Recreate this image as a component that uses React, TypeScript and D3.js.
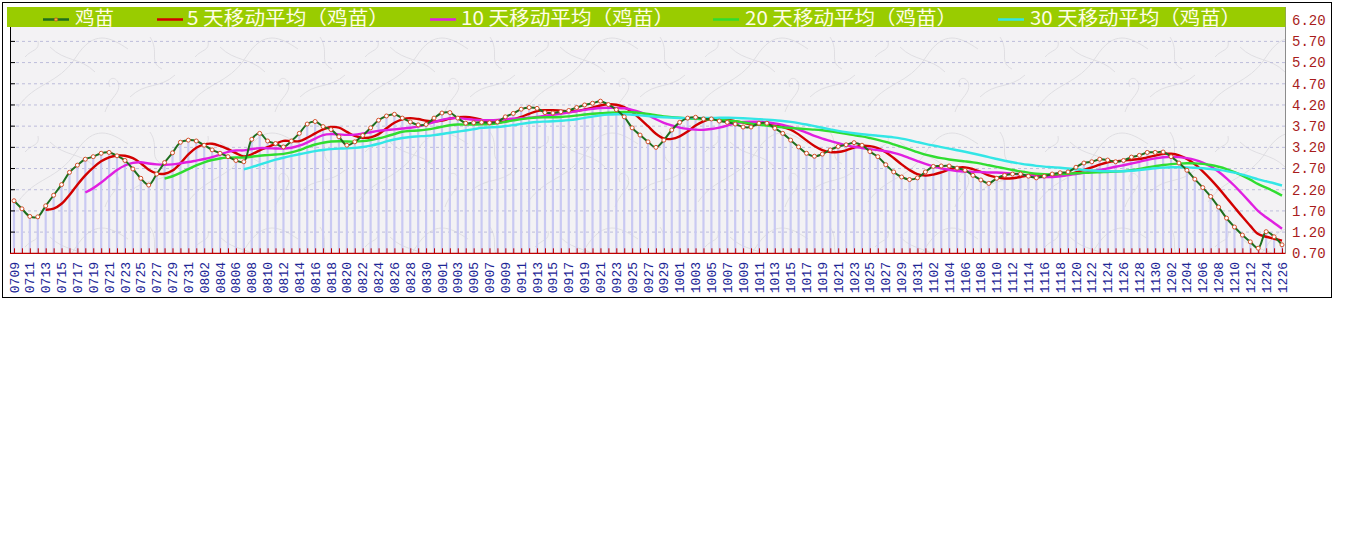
import React from 'react';
import * as d3 from 'd3';

// Dates (categories) — every day, one gap in December
const dates: string[] = (
  "0709 0710 0711 0712 0713 0714 0715 0716 0717 0718 0719 0720 0721 0722 0723 0724 0725 0726 0727 0728 0729 0730 0731 " +
  "0801 0802 0803 0804 0805 0806 0807 0808 0809 0810 0811 0812 0813 0814 0815 0816 0817 0818 0819 0820 0821 0822 0823 0824 0825 0826 0827 0828 0829 0830 0831 " +
  "0901 0902 0903 0904 0905 0906 0907 0908 0909 0910 0911 0912 0913 0914 0915 0916 0917 0918 0919 0920 0921 0922 0923 0924 0925 0926 0927 0928 0929 0930 " +
  "1001 1002 1003 1004 1005 1006 1007 1008 1009 1010 1011 1012 1013 1014 1015 1016 1017 1018 1019 1020 1021 1022 1023 1024 1025 1026 1027 1028 1029 1030 1031 " +
  "1101 1102 1103 1104 1105 1106 1107 1108 1109 1110 1111 1112 1113 1114 1115 1116 1117 1118 1119 1120 1121 1122 1123 1124 1125 1126 1127 1128 1129 1130 " +
  "1201 1202 1203 1204 1205 1206 1207 1208 1209 1210 1211 1212 1213 1224 1225 1226"
).split(" ");

// 鸡苗 price
const price: number[] = [
  1.94, 1.75, 1.57, 1.56, 1.82, 2.07, 2.32, 2.61, 2.78, 2.92,
  2.98, 3.06, 3.08, 3.00, 2.89, 2.69, 2.47, 2.31, 2.57, 2.84,
  3.07, 3.32, 3.37, 3.35, 3.25, 3.14, 3.06, 2.98, 2.89, 2.86,
  3.39, 3.53, 3.35, 3.29, 3.21, 3.35, 3.53, 3.75, 3.81, 3.69,
  3.62, 3.45, 3.25, 3.33, 3.48, 3.66, 3.84, 3.94, 3.98, 3.89,
  3.80, 3.73, 3.74, 3.89, 4.01, 4.02, 3.89, 3.77, 3.78, 3.79,
  3.78, 3.80, 3.92, 4.00, 4.10, 4.14, 4.12, 4.02, 4.01, 4.04,
  4.07, 4.14, 4.20, 4.24, 4.29, 4.21, 4.09, 3.92, 3.66, 3.49,
  3.33, 3.20, 3.37, 3.61, 3.79, 3.89, 3.91, 3.87, 3.87, 3.82,
  3.79, 3.75, 3.68, 3.68, 3.77, 3.77, 3.65, 3.53, 3.37, 3.21,
  3.06, 2.99, 3.04, 3.14, 3.22, 3.26, 3.31, 3.25, 3.10, 2.98,
  2.79, 2.62, 2.50, 2.44, 2.48, 2.62, 2.75, 2.76, 2.76, 2.71,
  2.66, 2.54, 2.43, 2.35, 2.47, 2.54, 2.57, 2.57, 2.52, 2.48,
  2.52, 2.57, 2.60, 2.62, 2.73, 2.83, 2.86, 2.92, 2.90, 2.86,
  2.89, 2.97, 3.01, 3.08, 3.08, 3.09, 2.98, 2.83, 2.66, 2.45,
  2.25, 2.04, 1.79, 1.53, 1.32, 1.13, 0.97, 0.82, 1.21, 1.09,
  0.90,
];

const maPeriods: number[] = [5, 10, 20, 30];
const seriesNames: string[] = ["鸡苗", "5 天移动平均（鸡苗）", "10 天移动平均（鸡苗）", "20 天移动平均（鸡苗）", "30 天移动平均（鸡苗）"];
const yTicks: number[] = [0.7, 1.2, 1.7, 2.2, 2.7, 3.2, 3.7, 4.2, 4.7, 5.2, 5.7, 6.2];

const maColors = ["#d20000", "#e020e0", "#30dd30", "#33e6e6"];
const priceColor = "#1e6e1e";

function movingAverage(values: number[], n: number): (number | null)[] {
  return values.map((_, i) => (i < n - 1 ? null : (d3.mean(values.slice(i - n + 1, i + 1)) as number)));
}

export default function App() {
  const W = 1345, H = 541;
  const left = 10, right = 1285.5, top = 7, legendBottom = 27;
  const x = d3.scalePoint<string>().domain(dates).range([14, 1282]);
  const y = d3.scaleLinear().domain([0.7, 6.2]).range([253.3, 20.2]);
  const base = y(0.7);

  const line = d3
    .line<[string, number | null]>()
    .defined((d) => d[1] != null)
    .x((d) => x(d[0]) as number)
    .y((d) => y(d[1] as number))
    .curve(d3.curveCatmullRom.alpha(0.5));

  const mas = maPeriods.map((p) => movingAverage(price, p));
  const pricePairs: [string, number | null][] = dates.map((d, i) => [d, price[i]]);

  const legendLayout = [
    { lx: 43, tx: 75, len: 39 },
    { lx: 157, tx: 187, len: 202 },
    { lx: 430, tx: 461, len: 213 },
    { lx: 713, tx: 745, len: 212 },
    { lx: 998, tx: 1030, len: 211 },
  ];
  const legendColors = [priceColor, ...maColors];

  return (
    <svg width={W} height={H} style={{ position: 'absolute', left: 0, top: 0, background: '#fff' }}>
      <defs>
        <pattern id="paper" width="170" height="95" patternUnits="userSpaceOnUse" x={left} y={legendBottom}>
          <rect width="170" height="95" fill="#f3f2f4" />
          <g fill="none" stroke="#dcdbe0" strokeWidth="0.9">
            <path d="M8,80 C25,55 48,58 66,30 S100,10 118,22" />
            <path d="M40,20 C55,35 70,30 85,45" />
            <path d="M120,70 C135,55 150,62 165,48" />
            <path d="M95,85 C100,70 112,66 108,55 C104,48 96,52 100,60" />
            <path d="M140,10 C150,25 138,35 152,42" />
            <path d="M15,30 C22,22 30,24 28,14" />
          </g>
        </pattern>
      </defs>

      {/* outer frame */}
      <rect x={2.5} y={2.5} width={1329} height={295} fill="#fff" stroke="#000" strokeWidth={1} />

      {/* plot background */}
      <rect x={left} y={legendBottom} width={right - left} height={base - legendBottom} fill="url(#paper)" />

      {/* grid lines */}
      {yTicks.filter((t) => t > 0.7 && t < 6.0).map((t) => (
        <line key={'g' + t} x1={left} x2={right} y1={y(t)} y2={y(t)} stroke="#bdbddb" strokeWidth={1} strokeDasharray="3,3" />
      ))}

      {/* bars */}
      {dates.map((d, i) => (
        <line key={'b' + d} x1={x(d)} x2={x(d)} y1={base} y2={y(price[i])} stroke="#c9c9f2" strokeWidth={2.2} />
      ))}

      {/* left axis */}
      <line x1={left + 0.5} x2={left + 0.5} y1={legendBottom} y2={base} stroke="#000" strokeWidth={1} />
      {yTicks.filter((t) => t > 0.7 && t < 6.0).map((t) => (
        <line key={'lt' + t} x1={left} x2={left + 5} y1={y(t)} y2={y(t)} stroke="#000" strokeWidth={1} />
      ))}
      {/* right border */}
      <line x1={right} x2={right} y1={top} y2={base} stroke="#8c8c8c" strokeWidth={1} />

      {/* bottom axis */}
      <line x1={left} x2={right} y1={base} y2={base} stroke="#c00000" strokeWidth={1.2} />
      {dates.map((d) => (
        <line key={'t' + d} x1={(x(d) as number) + 0.5} x2={(x(d) as number) + 0.5} y1={base} y2={base - 5} stroke="#c00000" strokeWidth={1} />
      ))}

      {/* moving averages */}
      {mas.map((ma, k) => (
        <path
          key={'ma' + k}
          d={line(dates.map((d, i) => [d, ma[i]] as [string, number | null])) || ''}
          fill="none"
          stroke={maColors[k]}
          strokeWidth={2.4}
        />
      ))}

      {/* price */}
      <path d={line(pricePairs) || ''} fill="none" stroke={priceColor} strokeWidth={2} />
      {dates.map((d, i) => (
        <circle key={'m' + d} cx={x(d)} cy={y(price[i])} r={2} fill="#fff" stroke="#d4502c" strokeWidth={1} />
      ))}

      {/* legend */}
      <rect x={7} y={top} width={right - 7} height={legendBottom - top} fill="#99cc00" />
      {seriesNames.map((name, k) => {
        const L = legendLayout[k];
        return (
          <g key={'lg' + k}>
            <line x1={L.lx} x2={L.lx + 26} y1={19.5} y2={19.5} stroke={legendColors[k]} strokeWidth={2.5} />
            {k === 0 && <circle cx={L.lx + 13} cy={19.5} r={1.6} fill="#f0c020" stroke="#d4502c" strokeWidth={0.8} />}
            <text
              x={L.tx}
              y={25}
              fontSize={19}
              fontFamily="'Noto Sans CJK SC', sans-serif"
              fill="#fffde6"
              textLength={L.len}
              lengthAdjust="spacingAndGlyphs"
            >
              {name}
            </text>
          </g>
        );
      })}

      {/* right axis labels */}
      {yTicks.map((t) => (
        <text
          key={'yl' + t}
          x={1292}
          y={y(t)}
          dy="0.35em"
          fontSize={14}
          fontFamily="'Liberation Mono', monospace"
          fill="#a81c1c"
        >
          {t.toFixed(2)}
        </text>
      ))}

      {/* x labels */}
      {dates.map((d, i) =>
        i % 2 === 0 ? (
          <text
            key={'xl' + d}
            transform={`translate(${x(d)},262) rotate(-90)`}
            textAnchor="end"
            dy="0.35em"
            fontSize={13}
            fontFamily="'Liberation Mono', monospace"
            fill="#1c2696"
          >
            {d}
          </text>
        ) : null
      )}
    </svg>
  );
}
